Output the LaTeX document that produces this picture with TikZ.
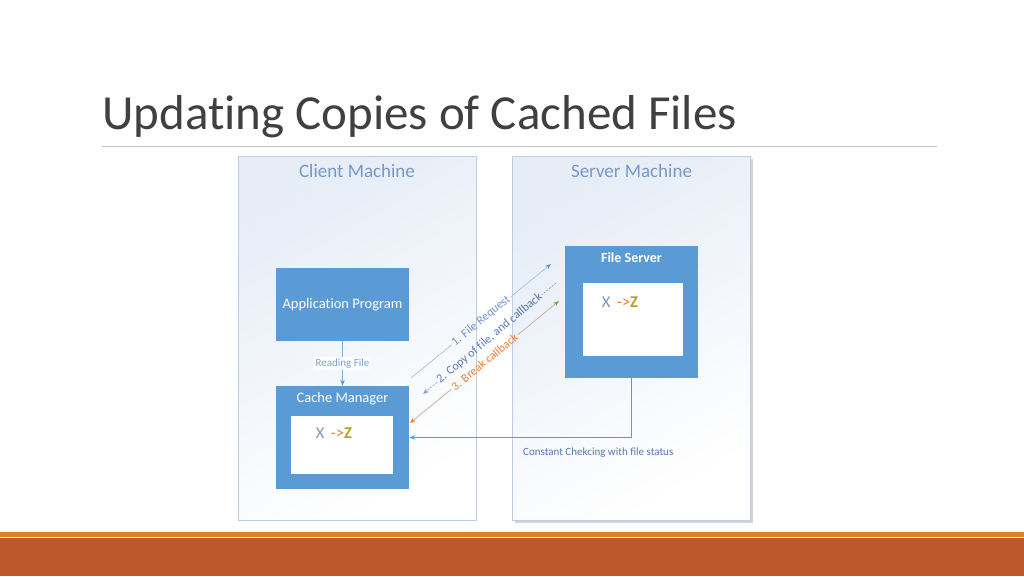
\documentclass[tikz,border=0pt]{standalone}
\usepackage{fontspec}
\setmainfont{Carlito}[Ligatures=CommonOff]
\usepackage{tikz}
\usetikzlibrary{arrows.meta,shadows,positioning}

\definecolor{TitleGray}{HTML}{404040}
\definecolor{RuleGray}{HTML}{C0C0C0}
\definecolor{MachLine}{HTML}{BCCDE2}
\definecolor{MachFill}{HTML}{E6EDF7}
\definecolor{MachText}{HTML}{7898C2}
\definecolor{BoxBlue}{HTML}{5B9BD5}
\definecolor{ReqBlue}{HTML}{A7C4E6}
\definecolor{ReqText}{HTML}{6E93C8}
\definecolor{CopyBlue}{HTML}{7E9FCB}
\definecolor{CopyText}{HTML}{5779AE}
\definecolor{BrkLine}{HTML}{C8AE94}
\definecolor{BrkOrange}{HTML}{ED7D31}
\definecolor{BrkGreen}{HTML}{70AD47}
\definecolor{ZOlive}{HTML}{B3A028}
\definecolor{BarOrange}{HTML}{E0811F}
\definecolor{BarBrown}{HTML}{BC582C}

\begin{document}
\begin{tikzpicture}[x=1pt,y=-1pt,
  machine/.style={draw=MachLine, line width=0.8pt, top color=MachFill, bottom color=white,
    shading angle=30, minimum width=238pt, minimum height=364pt, inner sep=0pt},
  machlabel/.style={text=MachText, font=\fontsize{19}{22}\selectfont, inner sep=0pt},
  bluebox/.style={fill=BoxBlue, minimum width=133pt, inner sep=0pt},
  whitebox/.style={fill=white, inner sep=0pt},
  boxlabel/.style={text=white, font=\fontsize{14.5}{17}\selectfont, inner sep=0pt},
  smalltext/.style={font=\fontsize{11}{13}\selectfont},
  msglabel/.style={font=\fontsize{12}{14}\selectfont, sloped, inner sep=1.5pt},
  tip/.style={-{Stealth[length=6pt,width=4.5pt,#1]}},
  swap/.style={font=\fontsize{16.5}{19}\selectfont, inner sep=0pt}
]
\useasboundingbox (0,0) rectangle (1024,576);

% Title
\node[anchor=base west, inner sep=0pt, text=TitleGray, font=\fontsize{49}{58}\selectfont] (title) at (102,129) {Updating Copies of Cached Files};
\draw[RuleGray, line width=0.8pt] (102,146) -- (937,146);

% Machines
\node[machine] (client) at (357,338) {};
\node[machine, drop shadow={shadow xshift=2.5pt, shadow yshift=-2.5pt, opacity=0.35}] (server) at (631.5,338) {};
\node[machlabel] (clientlbl) at (357,171) {Client Machine};
\node[machlabel] (serverlbl) at (631.5,171) {Server Machine};

% Client side
\node[bluebox, minimum height=73pt] (app) at (342.5,304.5) {};
\node[boxlabel] (applbl) at (342.5,305) {Application Program};
\node[bluebox, minimum height=103pt] (cache) at (342.5,437.5) {};
\node[boxlabel] (cachelbl) at (342.5,399) {Cache Manager};
\node[whitebox, minimum width=102pt, minimum height=58pt] (cachebox) at (342,445) {};
\node[swap] (cachexz) at (334,433) {{\color{MachText}X} \,{\color{BrkOrange}->}{\color{ZOlive}\textbf{Z}}};

% Server side
\node[bluebox, minimum height=132pt] (fs) at (631.5,312) {};
\node[boxlabel, font=\fontsize{14}{17}\selectfont\bfseries] (fslbl) at (631.5,258) {File Server};
\node[whitebox, minimum width=100pt, minimum height=73pt] (fsbox) at (633,319.5) {};
\node[swap] (fsxz) at (620,302) {{\color{MachText}X} \,{\color{BrkOrange}->}{\color{ZOlive}\textbf{Z}}};

% Connectors
\draw[BoxBlue!80, line width=0.7pt, tip={color=BoxBlue}] (app) -- node[smalltext, fill=white, text=CopyBlue, inner sep=1.5pt] (readlbl) {Reading File} (cache);
\draw[BoxBlue, line width=0.9pt, tip={color=BoxBlue}] (fs.south) |- (cache.east);
\node[smalltext, anchor=west, text=CopyText, inner sep=0pt] (checklbl) at (523,453) {Constant Chekcing with file status};

% messages between the machines
\coordinate (reqa) at (411,378);
\coordinate (reqb) at (551,264);
\coordinate (copya) at (556,283);
\coordinate (copyb) at (423,394);
\coordinate (brka) at (410,423);
\coordinate (brkb) at (559,301);
\path (reqa) -- node[msglabel, text=ReqText] (reqlbl) {1. File Request} (reqb);
\path (copya) -- node[msglabel, text=CopyText] (copylbl) {2. Copy of file, and callback} (copyb);
\path (brka) -- node[msglabel, text=BrkOrange] (brklbl) {3. Break callback} (brkb);
\draw[ReqBlue, line width=0.7pt] (reqa) -- (reqlbl.west);
\draw[ReqBlue, line width=0.7pt, tip={color=BoxBlue}] (reqlbl.east) -- (reqb);
\draw[CopyBlue, line width=0.7pt, dash pattern=on 2pt off 1.5pt] (copya) -- (copylbl.east);
\draw[CopyBlue, line width=0.7pt, dash pattern=on 2pt off 1.5pt, tip={color=CopyBlue}] (copylbl.west) -- (copyb);
\draw[BrkLine, line width=0.7pt, {Stealth[length=6pt,width=4.5pt,color=BrkOrange]}-] (brka) -- (brklbl.west);
\draw[BrkLine, line width=0.7pt, tip={color=BrkGreen}] (brklbl.east) -- (brkb);

% Footer bars
\fill[BarOrange] (0,531.5) rectangle (1024,537);
\fill[BarBrown] (0,538) rectangle (1024,576);
\end{tikzpicture}
\end{document}
